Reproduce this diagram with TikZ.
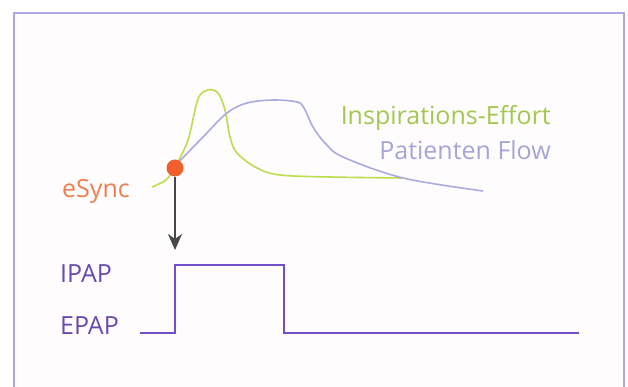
\documentclass[tikz,border=0pt]{standalone}
\usepackage{fontspec}
\setmainfont{Open Sans}
\usepackage{xcolor}
\usetikzlibrary{arrows.meta, calc}
\definecolor{frameblue}{HTML}{ABA8E4}
\definecolor{paper}{HTML}{FEFCFD}
\definecolor{effortgreen}{HTML}{BCDD4E}
\definecolor{efforttext}{HTML}{A2C850}
\definecolor{flowblue}{HTML}{ABABE0}
\definecolor{flowtext}{HTML}{A6A6D6}
\definecolor{syncorange}{HTML}{F05F2C}
\definecolor{synctext}{HTML}{EE8050}
\definecolor{pressure}{HTML}{7450C8}
\definecolor{pressuretext}{HTML}{6A48B0}
\definecolor{arrowgray}{HTML}{484848}

\begin{document}
\begin{tikzpicture}[x=1pt, y=-1pt, >={Stealth[length=16pt, width=14pt, inset=5pt]}, every node/.style={font=\fontsize{25}{27}\selectfont, inner sep=0pt}]
  \useasboundingbox (0,0) rectangle (628,387);
  \draw[frameblue, line width=1.2pt, fill=paper] (14,13) rectangle (624,400);
  % curves
  \draw[effortgreen, line width=1.6pt] plot[smooth, tension=0.55] coordinates {(152,187) (166,180) (175,167) (188,140) (198,99) (208,90) (218,93) (225,110) (230,137) (237,153) (257,168) (280,175) (330,177) (402,178)};
  \draw[flowblue, line width=1.6pt] plot[smooth, tension=0.55] coordinates {(175,166) (203,137) (227,113) (247,103) (273,100) (297,102) (304,108) (313,127) (325,143) (343,157) (403,178) (483,191)};
  \node[efforttext, anchor=base east] (effort) at (551,125) {Inspirations-Effort};
  \node[flowtext, anchor=base east] (flow) at (551,160) {Patienten Flow};
  % trigger
  \coordinate (release) at (175,250);
  \node[circle, fill=syncorange, minimum size=17pt] (trigger) at (175,168) {};
  \draw[->, arrowgray, line width=2.4pt] (trigger) -- (release);
  \node[synctext, anchor=base west] (esync) at (62,197) {eSync};
  % pressure
  \node[pressuretext, anchor=base west] (ipap) at (60,282) {IPAP};
  \node[pressuretext, anchor=base west] (epap) at (60,334) {EPAP};
  \draw[pressure, line width=1.6pt] (140,333) -- (175,333) -- (175,265) -- (284,265) -- (284,333) -- (579,333);
\end{tikzpicture}
\end{document}
